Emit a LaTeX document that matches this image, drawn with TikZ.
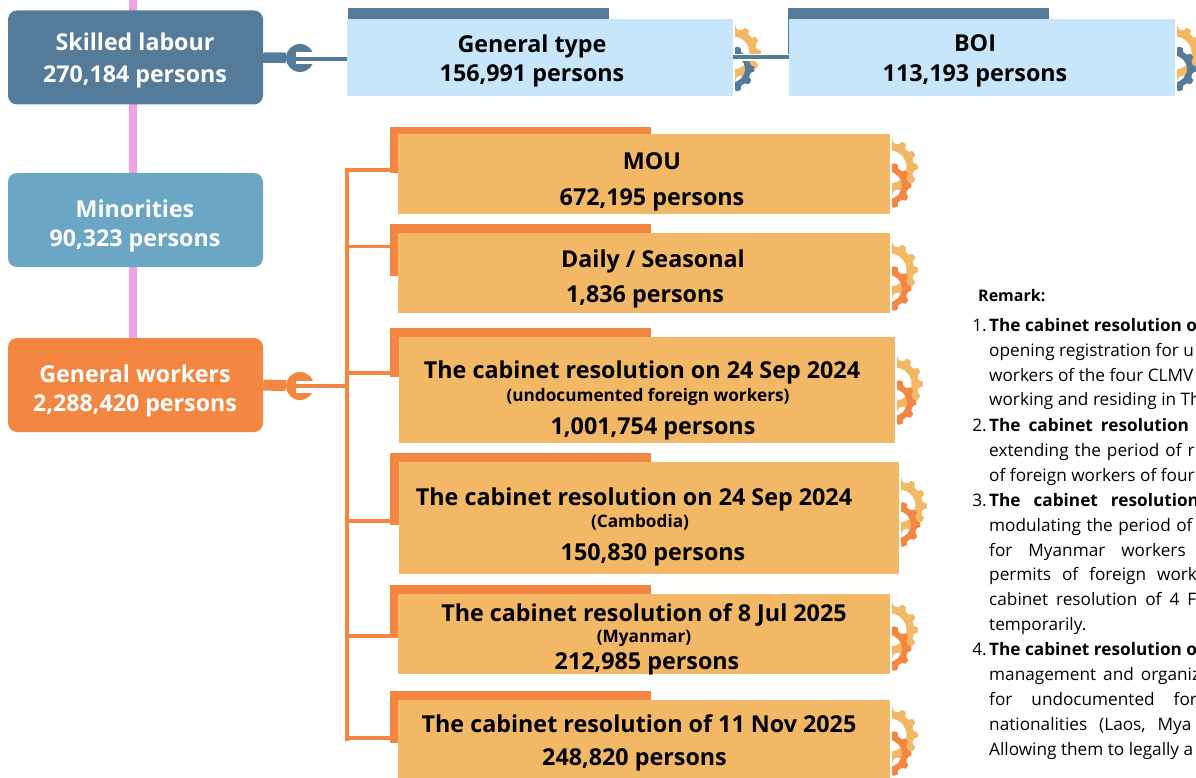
\documentclass[tikz,border=0pt]{standalone}
\usepackage{fontspec}
\setmainfont{Open Sans}
\usepackage{xcolor}
\usetikzlibrary{positioning}
\definecolor{pinkline}{HTML}{F0A2E8}
\definecolor{steelblue}{HTML}{557B9A}
\definecolor{skyblue}{HTML}{6CA6C5}
\definecolor{paleblue}{HTML}{C8E6FB}
\definecolor{deeporange}{HTML}{F38742}
\definecolor{sandorange}{HTML}{F2B866}
\tikzset{
    mainbox/.style={rounded corners=9pt,minimum width=255pt,minimum height=94pt,inner sep=0pt},
    tabbox/.style={inner sep=0pt,minimum width=261pt,minimum height=49pt},
    whitetext/.style={text=white,font=\fontsize{23.2}{24}\selectfont\bfseries,text height=21pt,text depth=2pt,inner sep=0pt},
    darktext/.style={text=black,font=\fontsize{23.3}{25}\selectfont\bfseries,text height=19pt,text depth=2pt,inner sep=0pt},
    smalltext/.style={text=black,font=\fontsize{17.2}{18}\selectfont\bfseries,text height=13.5pt,text depth=1pt,inner sep=0pt},
    remarktext/.style={text=black,font=\fontsize{17.2}{18}\selectfont,anchor=base west,inner sep=0pt},
    wrench/.style={circle,fill=#1,minimum size=28pt,inner sep=0pt},
    notch/.style={fill=white,minimum width=18pt,minimum height=12pt,inner sep=0pt,anchor=west}
}
% two gears behind the right edge of a box
\newcommand{\gearwheel}[6]{%
    \pgfmathsetmacro\gstep{360/#2}
    \fill[#6,even odd rule,shift={(#1)},rounded corners=0.8pt]
        ({-0.3*\gstep}:#4) \foreach \k in {1,...,#2}{
            -- ({(\k-1)*\gstep-0.17*\gstep}:#3) -- ({(\k-1)*\gstep+0.17*\gstep}:#3)
            -- ({(\k-1)*\gstep+0.3*\gstep}:#4) -- ({\k*\gstep-0.3*\gstep}:#4)
        } -- cycle (0,0) circle (#5);
}
\newcommand{\gearpair}[5]{%
    \begin{scope}
        \clip (#1+2,#2-40) rectangle (#1+45,#2+60);
        \gearwheel{#1,#2}{12}{28}{24}{16.5}{#4}
        \gearwheel{#1-1.5,#2+#3}{10}{23}{19.5}{13.5}{#5}
    \end{scope}
}

\begin{document}
\begin{tikzpicture}[x=1pt,y=-1pt]
    \useasboundingbox (0,0) rectangle (1196,778);
    \clip (0,0) rectangle (1196,778);

    % Pink spine behind the left boxes
    \coordinate (spinetop) at (133,0);
    \coordinate (spineend) at (133,350);
    \draw[pinkline,line width=8.5pt] (spinetop) -- (spineend);

    % Left boxes
    \node[mainbox,fill=steelblue] (skilled) at (135.5,57.5) {};
    \node[mainbox,fill=skyblue] (minorities) at (135.5,220) {};
    \node[mainbox,fill=deeporange] (workers) at (135.5,385) {};
    \node[whitetext] (skilledname) at (135,41) {Skilled labour};
    \node[whitetext] (skilledsum) at (135,73) {270,184 persons};
    \node[whitetext] (minorname) at (135,208) {Minorities};
    \node[whitetext] (minorsum) at (135,237) {90,323 persons};
    \node[whitetext] (workername) at (135,373) {General workers};
    \node[whitetext] (workersum) at (135,402) {2,288,420 persons};

    % Blue row
    \node[tabbox,fill=steelblue] (tabgeneral) at (478.5,32.5) {};
    \node[tabbox,fill=steelblue] (tabboi) at (918.5,32.5) {};
    \gearpair{733}{53}{16}{sandorange}{steelblue}
    \gearpair{1175}{53}{16}{sandorange}{steelblue}
    \node[fill=paleblue,minimum width=386pt,minimum height=77pt,inner sep=0pt] (general) at (540,57.5) {};
    \node[fill=paleblue,minimum width=386pt,minimum height=77pt,inner sep=0pt] (boi) at (982,57.5) {};
    \node[darktext] (generalname) at (532,44) {General type};
    \node[darktext] (generalsum) at (532,73) {156,991 persons};
    \node[darktext] (boiname) at (975,43) {BOI};
    \node[darktext] (boisum) at (975,73) {113,193 persons};
    \draw[white,line width=7pt] (general.east) -- (boi.west);
    \draw[steelblue,line width=4pt] (general.east) -- (boi.west);

    % Orange rows
    \foreach \n/\tabtop/\tabh/\xa/\ya/\w/\h/\gy in {1/127/46/398/134/492/80/167,2/224/52/398/233/492/80/270,3/328/49/399/337/496/106/384,4/453/72/399/462/500/112/506,5/585/53/398/594/492/80/630,6/691/52/398/700/492/78/735}{
        \node[tabbox,fill=deeporange,anchor=north west,minimum height=\tabh pt] (tab\n) at (390,\tabtop) {};
        \pgfmathsetmacro\xb{\xa+\w}
        \gearpair{\xb}{\gy}{18.5}{sandorange}{deeporange}
        \node[fill=sandorange,anchor=north west,inner sep=0pt,minimum width=\w pt,minimum height=\h pt] (row\n) at (\xa,\ya) {};
    }
    \node[darktext] (mouname) at (652,161) {MOU};
    \node[darktext] (mousum) at (652,197) {672,195 persons};
    \node[darktext] (dailyname) at (653,259) {Daily / Seasonal};
    \node[darktext] (dailysum) at (645,294) {1,836 persons};
    \node[darktext] (undocname) at (642,370) {The cabinet resolution on 24 Sep 2024};
    \node[smalltext] (undocnote) at (648,395) {(undocumented foreign workers)};
    \node[darktext] (undocsum) at (653,426) {1,001,754 persons};
    \node[darktext] (cambname) at (634,497) {The cabinet resolution on 24 Sep 2024};
    \node[smalltext] (cambnote) at (640,521) {(Cambodia)};
    \node[darktext] (cambsum) at (653,552) {150,830 persons};
    \node[darktext] (myanname) at (644,613) {The cabinet resolution of 8 Jul 2025};
    \node[smalltext] (myannote) at (644,636) {(Myanmar)};
    \node[darktext] (myansum) at (647,661) {212,985 persons};
    \node[darktext] (novname) at (639,724) {The cabinet resolution of 11 Nov 2025};
    \node[darktext] (novsum) at (634.5,757) {248,820 persons};

    % Orange trunk and its branches
    \coordinate (trunktop) at (347,170);
    \coordinate (trunkend) at (347,739);
    \draw[deeporange,line width=4pt,line cap=rect] (trunktop) -- (trunkend);
    \foreach \n/\y in {1/170,2/246.5,3/373,4/521,5/636,6/738}{
        \coordinate (joint\n) at (347,\y);
        \draw[deeporange,line width=3.5pt] (joint\n) -- (joint\n -| tab\n.west);
    }

    % Wrench joints
    \node[wrench=steelblue] (wrenchblue) at (300,58) {};
    \node[notch] (notchblue) at (296,58) {};
    \coordinate (blueend) at (347,59);
    \draw[steelblue,line width=10.5pt] (skilled.east) -- (wrenchblue);
    \draw[steelblue,line width=4pt] (notchblue.west |- blueend) -- (blueend);
    \node[wrench=deeporange] (wrenchorange) at (300,386) {};
    \node[notch] (notchorange) at (296,387) {};
    \coordinate (orangeend) at (347,386);
    \draw[deeporange,line width=11pt] (workers.east) -- (wrenchorange);
    \draw[deeporange,line width=4pt] (notchorange.west |- orangeend) -- (orangeend);

    % Remark column, one line at a time
    \node[remarktext,font=\fontsize{16}{18}\selectfont\bfseries] (remark) at (978,301) {Remark:};
    \foreach \n/\y/\s/\txt in {
        a/331/4.5/\textbf{The cabinet resolution o},
        b/356/4.5/opening registration for u,
        c/381/4.5/workers of the four CLMV,
        d/405/4.5/working and residing in Th,
        e/431/8/\textbf{The cabinet resolution},
        f/456/6/extending the period of r,
        g/481/4.5/of foreign workers of four,
        h/506/13/\textbf{The cabinet resolution},
        i/531/5.5/modulating the period of,
        j/556/16/for Myanmar workers,
        k/580/11/permits of foreign work,
        l/605/8/cabinet resolution of 4 F,
        m/630/4.5/temporarily.,
        n/655/4.5/\textbf{The cabinet resolution o},
        o/680/7/management and organiz,
        p/705/19/for undocumented for,
        q/730/12/{nationalities (Laos, Mya},
        r/755/4.5/Allowing them to legally a}{
        \node[remarktext] (rem\n) at (989,\y) {\spaceskip=\s pt\relax\txt};
    }
    \foreach \n/\m/\y in {1/a/331,2/e/431,3/h/506,4/n/655}
        \node[remarktext,anchor=base east] (num\n) at (987,\y) {\n.};
\end{tikzpicture}
\end{document}
